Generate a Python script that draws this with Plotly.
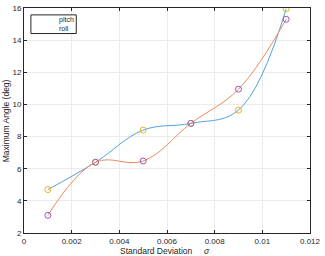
import plotly.graph_objects as go

sigma = [0.001, 0.003, 0.005, 0.007, 0.009, 0.011]
pitch = [4.7, 6.4, 8.4, 8.82, 9.65, 15.95]
roll = [3.1, 6.4, 6.48, 8.82, 10.95, 15.3]
legend_labels = ["pitch", "roll"]
x_ticks = [0, 0.002, 0.004, 0.006, 0.008, 0.01, 0.012]
x_tick_text = ["0", "0.002", "0.004", "0.006", "0.008", "0.01", "0.012"]
y_ticks = [2, 4, 6, 8, 10, 12, 14, 16]

W, H = 325, 256
L, R, T, B = 24, 11, 4, 23
pw, ph = W - L - R, H - T - B

def px(xp):
    return (xp - L) / pw

def py(yp):
    return (H - B - yp) / ph

fig = go.Figure()
fig.add_trace(go.Scatter(x=sigma, y=pitch, mode="lines", line=dict(color="#4ea3dc", width=1, shape="spline", smoothing=1.1), showlegend=False))
fig.add_trace(go.Scatter(x=sigma, y=roll, mode="lines", line=dict(color="#ee8a5e", width=1, shape="spline", smoothing=1.1), showlegend=False))
fig.add_trace(go.Scatter(x=sigma, y=pitch, mode="markers", marker=dict(symbol="circle-open", size=6, color="#EDB120", line=dict(width=1)), showlegend=False))
fig.add_trace(go.Scatter(x=sigma, y=roll, mode="markers", marker=dict(symbol="circle-open", size=6, color="#9b59b6", line=dict(width=1)), showlegend=False))

axis_common = dict(
    showline=True, linecolor="#262626", linewidth=1, mirror="ticks",
    ticks="inside", ticklen=3, tickcolor="#262626",
    showgrid=True, gridcolor="#ebebeb", gridwidth=1, zeroline=False,
    tickfont=dict(family="Liberation Sans, Arial", size=8, color="#262626"),
)
fig.update_xaxes(range=[0, 0.012], tickvals=x_ticks, ticktext=x_tick_text, **axis_common)
fig.update_yaxes(range=[2, 16], tickvals=y_ticks, **axis_common)

fig.add_shape(type="rect", xref="paper", yref="paper", x0=px(31), x1=px(77), y0=py(30), y1=py(11),
              line=dict(color="#262626", width=1), fillcolor="white", layer="above")
for i, lab in enumerate(legend_labels):
    fig.add_annotation(text=lab, xref="paper", yref="paper", x=px(57), y=py(16 + 9 * i), xanchor="left", yanchor="middle",
                       showarrow=False, font=dict(family="Liberation Sans, Arial", size=7, color="#262626"))

fig.add_annotation(text="Maximum Angle (deg)", xref="paper", yref="paper", x=px(5.5), y=0.5, textangle=-90,
                   xanchor="center", yanchor="middle", showarrow=False,
                   font=dict(family="Liberation Sans, Arial", size=8.5, color="#262626"))
fig.add_annotation(text="Standard Deviation     <i>σ</i>", xref="paper", yref="paper", x=px(167), y=py(251.5),
                   xanchor="center", yanchor="middle", showarrow=False,
                   font=dict(family="Liberation Sans, Arial", size=8.5, color="#262626"))

fig.update_layout(width=W, height=H, margin=dict(l=L, r=R, t=T, b=B),
                  paper_bgcolor="white", plot_bgcolor="white", showlegend=False)
fig.write_html("out.html", config={"displayModeBar": False},
               post_script="document.body.style.margin='0';document.body.style.overflow='hidden';")
